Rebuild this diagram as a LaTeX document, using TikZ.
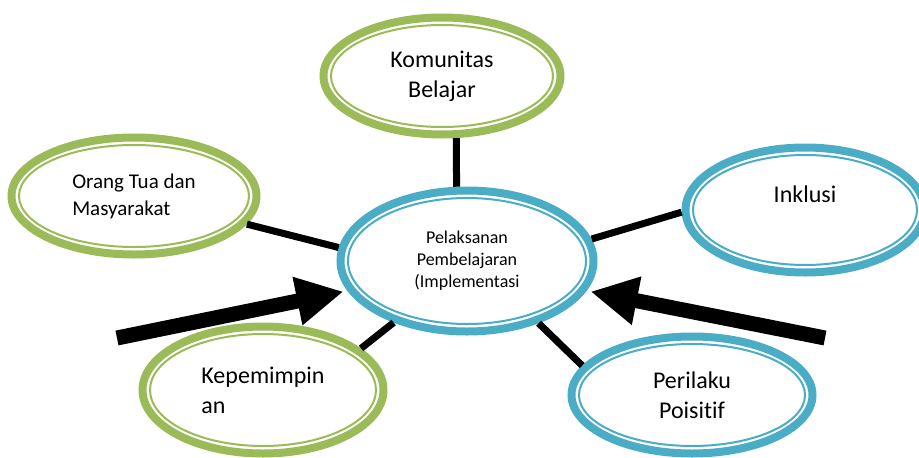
\documentclass[tikz,border=0pt]{standalone}
\usepackage{fontspec}
\setmainfont{Carlito}[Ligatures=NoCommon]
\usetikzlibrary{arrows.meta,calc,shapes.geometric}
\definecolor{ogreen}{HTML}{9BBB59}
\definecolor{oblue}{HTML}{4BACC6}
\tikzset{
	%Define style for the rings
	bubble/.style={
		ellipse,
		draw=#1,
		line width=8pt,
		fill=white,
		text=black,
		inner sep=2pt,
		font=\fontsize{24}{30}\selectfont},
	greenbubble/.style={bubble=ogreen},
	bluebubble/.style={bubble=oblue},
	% Define style for the spokes
	spoke/.style={
		line width=7pt,
		draw=black},
	% Define style for the big arrows
	push/.style={
		-{Triangle[length=47pt,width=46pt]},
		line width=15pt,
		shorten >=4pt}
}

\begin{document}
\begin{tikzpicture}[x=1pt,y=-1pt]
		\path[use as bounding box, clip] (0,0) rectangle (919,458);
		% node Pelaksanan
		\node[bluebubble, minimum width=253pt, minimum height=141pt, align=center,
			font=\fontsize{18}{22}\selectfont] (pel) at (467,261) {Pelaksanan\\Pembelajaran\\(Implementasi};
		% node Komunitas
		\node[greenbubble, minimum width=237pt, minimum height=117pt, align=center] (kom) at (442,76) {Komunitas\\Belajar};
		% node Orang Tua
		\node[greenbubble, minimum width=245pt, minimum height=117pt, align=left,
			font=\fontsize{21}{27}\selectfont] (orang) at (134,196) {Orang Tua dan\\Masyarakat};
		% node Inklusi
		\node[bluebubble, minimum width=239pt, minimum height=125pt, text depth=32pt] (ink) at (805,210) {Inklusi};
		% node Kepemimpinan
		\node[greenbubble, minimum width=241pt, minimum height=127pt, align=left] (kep) at (263,390) {Kepemimpin\\an};
		% node Perilaku
		\node[bluebubble, minimum width=241pt, minimum height=117pt, align=center] (peri) at (692,395) {Perilaku\\Poisitif};
		% thin inner rings
		\foreach \b/\c in {kom/ogreen, orang/ogreen, kep/ogreen, pel/oblue, ink/oblue, peri/oblue}
			\draw[draw=\c, line width=2pt] let \p1=($(\b.east)-(\b.center)$), \p2=($(\b.north)-(\b.center)$) in
				(\b.center) ellipse ({\x1-11.5pt} and {\y2-11.5pt});
		% spokes
		\draw[spoke] (kom.-77) -- (pel.98);
		\draw[spoke] (orang.-14) -- (pel.174);
		\draw[spoke] (ink.181) -- (pel.10);
		\draw[spoke] (kep.23) -- (pel.220);
		\draw[spoke] (peri.165) -- (pel.-41);
		% big arrows
		\coordinate (lefttail) at (117,338);
		\coordinate (righttail) at (825,338);
		\draw[push] (lefttail) -- (pel.194);
		\draw[push] (righttail) -- (pel.346);
	\end{tikzpicture}
\end{document}
